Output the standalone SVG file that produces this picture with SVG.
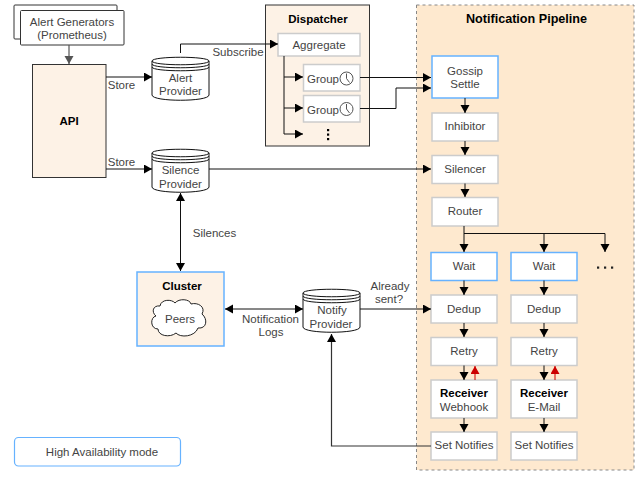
<svg xmlns="http://www.w3.org/2000/svg" width="638" height="477" viewBox="0 0 638 477">
<style>
text{font-family:"Liberation Sans",Arial,sans-serif;font-size:11.5px;fill:#444;text-anchor:middle}
.b{font-weight:bold;fill:#000}
.t{font-size:12.6px}
.box{fill:#fff;stroke:#ccc;stroke-width:1.5}
.blue{fill:#fff;stroke:#66b2ff;stroke-width:1.5}
.c{fill:none;stroke:#111;stroke-width:1;marker-end:url(#a)}
.n{fill:none;stroke:#111;stroke-width:1}
.cyl{fill:#fff;stroke:#111;stroke-width:1}
</style>
<defs>
<marker id="a" markerUnits="userSpaceOnUse" markerWidth="9" markerHeight="10" refX="8" refY="4.500" orient="auto-start-reverse"><path d="M0 0L8 4.500L0 9Z" fill="#000"/></marker>
<marker id="g" markerUnits="userSpaceOnUse" markerWidth="9" markerHeight="10" refX="8" refY="4.500" orient="auto"><path d="M0 0L8 4.500L0 9Z" fill="#555"/></marker>
<marker id="r" markerUnits="userSpaceOnUse" markerWidth="9" markerHeight="10" refX="8" refY="4.500" orient="auto"><path d="M0 0L8 4.500L0 9Z" fill="#c00"/></marker>
<g id="cylshape">
<path class="cyl" d="M0 8C0 3 57 3 57 8V42C57 49 0 49 0 42Z"/>
<path class="n" d="M0 8C0 13 57 13 57 8M0 11C0 16 57 16 57 11M0 14C0 19 57 19 57 14"/>
</g>
<g id="clock"><circle cx="0" cy="0" r="6.500" fill="#fff" stroke="#555" stroke-width="1"/><path d="M0 -5V0L3 4" fill="none" stroke="#555" stroke-width="1"/></g>
</defs>

<g id="pipeline">
<rect x="416.500" y="5" width="217.500" height="465" fill="#fee9cf" stroke="#888" stroke-dasharray="3 3"/>
<text class="b t" x="526.500" y="23">Notification Pipeline</text>
</g>
<g id="generators">
<rect x="14" y="5" width="103" height="34" rx="1" fill="#fff" stroke="#333"/>
<rect x="20.500" y="10.500" width="103.500" height="34.500" rx="1" fill="#fff" stroke="#333"/>
<text x="72" y="26">Alert Generators</text><text x="72" y="39">(Prometheus)</text>
</g>
<g id="api"><rect x="32.500" y="64.500" width="73.500" height="113" fill="#fdf2e6" stroke="#333"/><text class="b" x="69" y="125">API</text></g>
<g id="alert-provider"><use href="#cylshape" x="152" y="53"/><text x="180.500" y="82">Alert</text><text x="180.500" y="95">Provider</text></g>
<g id="silence-provider"><use href="#cylshape" x="152" y="145"/><text x="180.500" y="174">Silence</text><text x="180.500" y="188">Provider</text></g>
<g id="dispatcher">
<rect x="265.500" y="5" width="104" height="141" fill="#fdf2e6" stroke="#333"/>
<text class="b" x="318" y="23">Dispatcher</text>
</g>
<g id="aggregate"><rect class="box" x="278" y="33.500" width="82" height="22.500"/><text x="319" y="49">Aggregate</text></g>
<g id="group1"><rect class="box" x="303.500" y="64.500" width="56.500" height="26.500"/><text x="323" y="83">Group</text><use href="#clock" x="346.500" y="78.500"/></g>
<g id="group2"><rect class="box" x="303.500" y="95.500" width="56.500" height="26.500"/><text x="323" y="114">Group</text><use href="#clock" x="346.500" y="109"/></g>
<g id="dots1"><rect x="327" y="129" width="2.200" height="2.200" fill="#000"/><rect x="327" y="133.500" width="2.200" height="2.200" fill="#000"/><rect x="327" y="138" width="2.200" height="2.200" fill="#000"/></g>
<g id="gossip"><rect class="blue" x="432" y="56" width="66" height="42"/><text x="465" y="75">Gossip</text><text x="465" y="88">Settle</text></g>
<g id="inhibitor"><rect class="box" x="432" y="113" width="66" height="28"/><text x="465" y="130">Inhibitor</text></g>
<g id="silencer"><rect class="box" x="432" y="155.500" width="66" height="28"/><text x="465" y="173">Silencer</text></g>
<g id="router"><rect class="box" x="432" y="197.500" width="66" height="28.500"/><text x="465" y="215">Router</text></g>
<g id="wait1"><rect class="blue" x="431" y="252.500" width="66" height="28"/><text x="464" y="270">Wait</text></g>
<g id="dedup1"><rect class="box" x="431" y="295" width="66" height="28"/><text x="464" y="313">Dedup</text></g>
<g id="retry1"><rect class="box" x="431" y="337.500" width="66" height="28"/><text x="464" y="355">Retry</text></g>
<g id="receiver1"><rect class="box" x="431" y="380" width="66" height="38"/><text class="b" x="464" y="397">Receiver</text><text x="464" y="411">Webhook</text></g>
<g id="notifies1"><rect class="box" x="431" y="432" width="66" height="28"/><text x="464" y="449">Set Notifies</text></g>
<g id="wait2"><rect class="blue" x="511" y="252.500" width="66" height="28"/><text x="544" y="270">Wait</text></g>
<g id="dedup2"><rect class="box" x="511" y="295" width="66" height="28"/><text x="544" y="313">Dedup</text></g>
<g id="retry2"><rect class="box" x="511" y="337.500" width="66" height="28"/><text x="544" y="355">Retry</text></g>
<g id="receiver2"><rect class="box" x="511" y="380" width="66" height="38"/><text class="b" x="544" y="397">Receiver</text><text x="544" y="411">E-Mail</text></g>
<g id="notifies2"><rect class="box" x="511" y="432" width="66" height="28"/><text x="544" y="449">Set Notifies</text></g>
<g id="dots2"><rect x="597" y="266.500" width="2.200" height="2.200" fill="#222"/><rect x="604" y="266.500" width="2.200" height="2.200" fill="#222"/><rect x="611" y="266.500" width="2.200" height="2.200" fill="#222"/></g>
<g id="cluster">
<rect x="137" y="272" width="87" height="74" fill="#fdf2e6" stroke="#66b2ff" stroke-width="1.500"/>
<text class="b" x="182" y="290">Cluster</text>
<path d="M160 306C161 299 172 299 175 303C179 298 190 299 191 304C198 302 206 307 202 314C208 319 207 329 198 328C195 337 180 338 176 333C170 338 158 336 158 329C150 329 150 317 156 316C151 312 153 305 160 306Z" fill="#fff" stroke="#222"/>
<text x="180" y="323">Peers</text>
</g>
<g id="notify-provider"><use href="#cylshape" x="303" y="285"/><text x="332" y="314">Notify</text><text x="331" y="328">Provider</text></g>
<g id="legend"><rect x="14.500" y="437.500" width="166" height="28.500" rx="4" fill="#fff" stroke="#66b2ff" stroke-width="1.200"/><text x="102" y="456">High Availability mode</text></g>

<g id="connectors">
<path d="M69 45V64" fill="none" stroke="#555" stroke-width="1.200" marker-end="url(#g)"/>
<path class="c" d="M106 77H152"/>
<path class="c" d="M106 169H152"/>
<path class="c" d="M180.500 53V44H278"/>
<path class="c" d="M209 169H431"/>
<path class="c" d="M284 56V134H303"/>
<path class="c" d="M284 77H303"/>
<path class="c" d="M284 108H303"/>
<path class="c" d="M360 77.500H431"/>
<path class="c" d="M360 108.500H396V88H431"/>
<path class="c" d="M465 98V113"/>
<path class="c" d="M465 141V155"/>
<path class="c" d="M465 183.500V197"/>
<path class="c" d="M464 226V252"/>
<path class="n" d="M464 233.500H605"/>
<path class="c" d="M544 233.500V252"/>
<path class="c" d="M605 233.500V252"/>
<path class="c" d="M464 280.500V295"/>
<path class="c" d="M464 323V337"/>
<path class="c" d="M464 365.500V380"/>
<path class="c" d="M464 418V432"/>
<path class="c" d="M544 280.500V295"/>
<path class="c" d="M544 323V337"/>
<path class="c" d="M544 365.500V380"/>
<path class="c" d="M544 418V432"/>
<path d="M475 380V366" fill="none" stroke="#c00" marker-end="url(#r)"/>
<path d="M555 380V366" fill="none" stroke="#c00" marker-end="url(#r)"/>
<path class="c" d="M180.500 193V271" marker-start="url(#a)"/>
<path class="c" d="M225 309H303" marker-start="url(#a)"/>
<path class="c" d="M360 309H431"/>
<path d="M431 446H331.500V334" fill="none" stroke="#333" stroke-width="1.200" marker-end="url(#a)"/>
</g>
<g id="labels">
<text x="121.500" y="89">Store</text>
<text x="121.500" y="166">Store</text>
<text x="238" y="56">Subscribe</text>
<text x="214.500" y="237">Silences</text>
<text x="270.500" y="323">Notification</text>
<text x="271" y="336">Logs</text>
<text x="390" y="290">Already</text>
<text x="389" y="303">sent?</text>
</g>
</svg>
